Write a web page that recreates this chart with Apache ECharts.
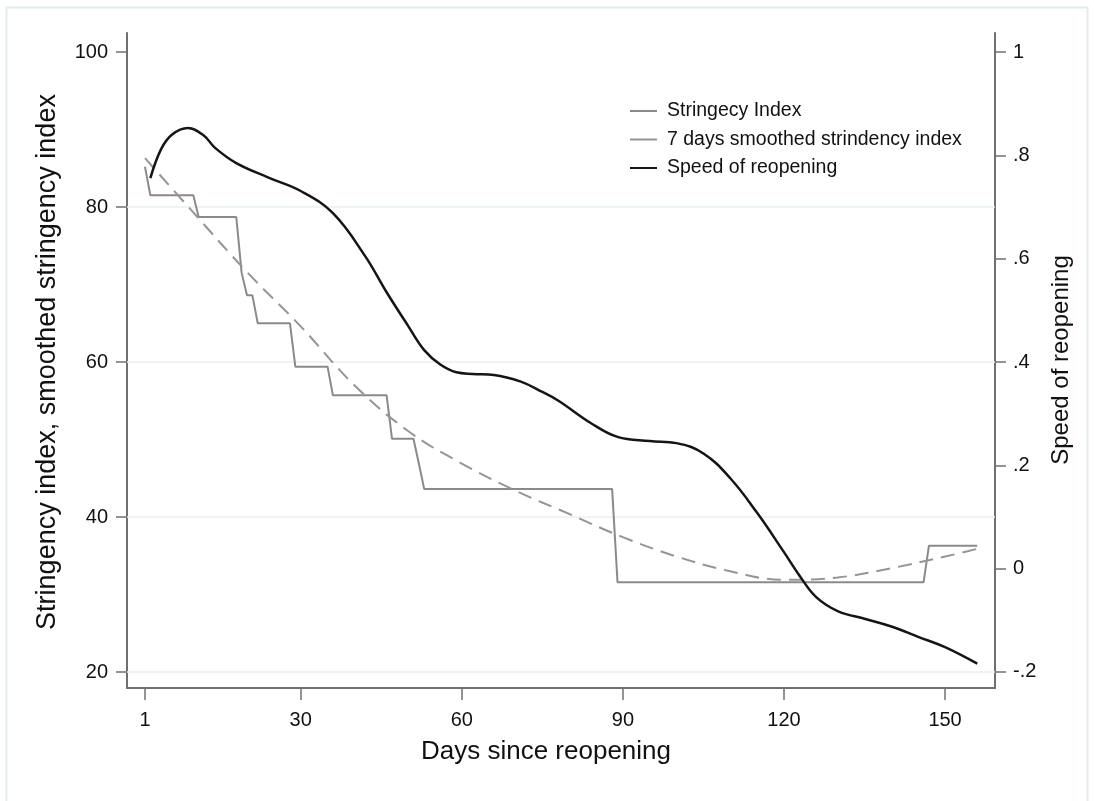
<!DOCTYPE html>
<html>
<head>
<meta charset="utf-8">
<script src="https://cdn.jsdelivr.net/npm/echarts@6/dist/echarts.min.js"></script>
<style>
  html, body { margin: 0; padding: 0; background: #fff; }
  #chart { width: 1094px; height: 801px; }
</style>
</head>
<body>
<div id="chart"></div>
<script>
// stringency index (daily, step-like)
const stringDays = [1, 2, 10, 11, 18, 19, 20, 21, 22, 28, 29, 35, 36, 46, 47, 51, 52, 53, 88, 89, 146, 147, 156];
const stringVals = [85.2, 81.5, 81.5, 78.7, 78.7, 71.5, 68.6, 68.6, 65.0, 65.0, 59.4, 59.4, 55.7, 55.7, 50.1, 50.1, 46.9, 43.6, 43.6, 31.6, 31.6, 36.3, 36.3];

// 7 days smoothed index
const smoothDays = [1, 10, 20, 30, 40, 50, 60, 70, 80, 90, 100, 110, 120, 130, 140, 150, 156];
const smoothVals = [86.3, 79.3, 71.6, 64.6, 57.0, 51.1, 46.9, 43.4, 40.4, 37.4, 34.9, 33.0, 31.9, 32.2, 33.4, 34.9, 35.9];

// speed of reopening (right axis)
const speedDays = [2, 4, 6, 9, 12, 14, 18, 24, 30, 36, 42, 46, 50, 53, 56, 59, 62, 66, 71, 75, 78, 84, 89, 95, 100, 105, 110, 115, 120, 123, 126, 130, 135, 140, 145, 150, 156];
const speedVals = [0.756, 0.812, 0.840, 0.853, 0.838, 0.815, 0.785, 0.757, 0.731, 0.688, 0.605, 0.535, 0.470, 0.423, 0.395, 0.380, 0.377, 0.375, 0.362, 0.342, 0.325, 0.282, 0.255, 0.247, 0.243, 0.223, 0.175, 0.108, 0.032, -0.015, -0.055, -0.082, -0.097, -0.112, -0.132, -0.152, -0.184];

const xTicks = [1, 30, 60, 90, 120, 150];
const leftTicks = [20, 40, 60, 80, 100];
const rightTicks = [-0.2, 0, 0.2, 0.4, 0.6, 0.8, 1];
const gridValues = [20, 40, 60, 80];

const pairs = (xs, ys) => xs.map((d, i) => [d, ys[i]]);
const stataNum = v => {
  if (Math.abs(v) < 1e-9) return '0';
  let s = String(Math.round(v * 10) / 10);
  return s.replace('0.', '.');
};

const axisCol = '#707070';
const textCol = '#111';
const font = 'Liberation Sans, Arial, sans-serif';

const chart = echarts.init(document.getElementById('chart'), null, { renderer: 'canvas' });

chart.setOption({
  animation: false,
  backgroundColor: '#fff',
  grid: { left: 127, right: 99, top: 33, bottom: 113, containLabel: false },
  legend: {
    orient: 'vertical',
    left: 625,
    top: 96,
    icon: 'rect',
    itemWidth: 27,
    itemHeight: 2,
    itemGap: 8.5,
    textStyle: { fontFamily: font, fontSize: 19.5, color: textCol, padding: [0, 0, 0, 5] },
    data: ['Stringecy Index', '7 days smoothed strindency index', 'Speed of reopening']
  },
  xAxis: {
    type: 'value',
    min: -2.35,
    max: 159.3,
    axisLine: { show: true, onZero: false, lineStyle: { color: axisCol, width: 2 } },
    axisTick: { show: true, length: 12, customValues: xTicks, lineStyle: { color: axisCol, width: 1.5 } },
    axisLabel: { customValues: xTicks, margin: 22, fontFamily: font, fontSize: 20, color: textCol },
    splitLine: { show: false }
  },
  yAxis: [
    {
      type: 'value',
      position: 'left',
      min: 17.94,
      max: 102.45,
      axisLine: { show: true, onZero: false, lineStyle: { color: axisCol, width: 2 } },
      axisTick: { show: true, length: 11, customValues: leftTicks, lineStyle: { color: axisCol, width: 1.5 } },
      axisLabel: { customValues: leftTicks, margin: 19, fontFamily: font, fontSize: 20, color: textCol },
      splitLine: { show: false }
    },
    {
      type: 'value',
      position: 'right',
      min: -0.231,
      max: 1.0368,
      axisLine: { show: true, onZero: false, lineStyle: { color: axisCol, width: 2 } },
      axisTick: { show: true, length: 11, customValues: rightTicks, lineStyle: { color: axisCol, width: 1.5 } },
      axisLabel: { customValues: rightTicks, margin: 18, fontFamily: font, fontSize: 20, color: textCol, formatter: stataNum },
      splitLine: { show: false }
    }
  ],
  graphic: [
    { type: 'rect', shape: { x: 6.5, y: 7.5, width: 1081, height: 800 }, style: { fill: null, stroke: '#e2eef0', lineWidth: 2 }, silent: true },
    { type: 'text', x: 48, y: 362, rotation: Math.PI / 2,
      style: { text: 'Stringency index, smoothed stringency index', fontFamily: font, fontSize: 27, fill: textCol, textAlign: 'center', textVerticalAlign: 'middle' } },
    { type: 'text', x: 1061, y: 360, rotation: Math.PI / 2,
      style: { text: 'Speed of reopening', fontFamily: font, fontSize: 24, fill: textCol, textAlign: 'center', textVerticalAlign: 'middle' } },
    { type: 'text', x: 546, y: 752,
      style: { text: 'Days since reopening', fontFamily: font, fontSize: 26, fill: textCol, textAlign: 'center', textVerticalAlign: 'middle' } }
  ],
  series: [
    {
      name: 'Stringecy Index',
      type: 'line',
      yAxisIndex: 0,
      symbol: 'none',
      data: pairs(stringDays, stringVals),
      lineStyle: { color: '#8a8a8a', width: 2 },
      itemStyle: { color: '#8a8a8a' },
      z: 3,
      markLine: {
        silent: true,
        symbol: 'none',
        label: { show: false },
        lineStyle: { color: '#e6f0f2', width: 1.5, type: 'solid' },
        data: gridValues.map(v => ({ yAxis: v })),
        z: 1
      }
    },
    {
      name: '7 days smoothed strindency index',
      type: 'line',
      yAxisIndex: 0,
      symbol: 'none',
      smooth: 0.4,
      data: pairs(smoothDays, smoothVals),
      lineStyle: { color: '#959595', width: 2, type: [14, 8] },
      itemStyle: { color: '#959595' },
      z: 3
    },
    {
      name: 'Speed of reopening',
      type: 'line',
      yAxisIndex: 1,
      symbol: 'none',
      smooth: 0.4,
      data: pairs(speedDays, speedVals),
      lineStyle: { color: '#151515', width: 2.5 },
      itemStyle: { color: '#151515' },
      z: 4
    }
  ]
});
</script>
</body>
</html>
